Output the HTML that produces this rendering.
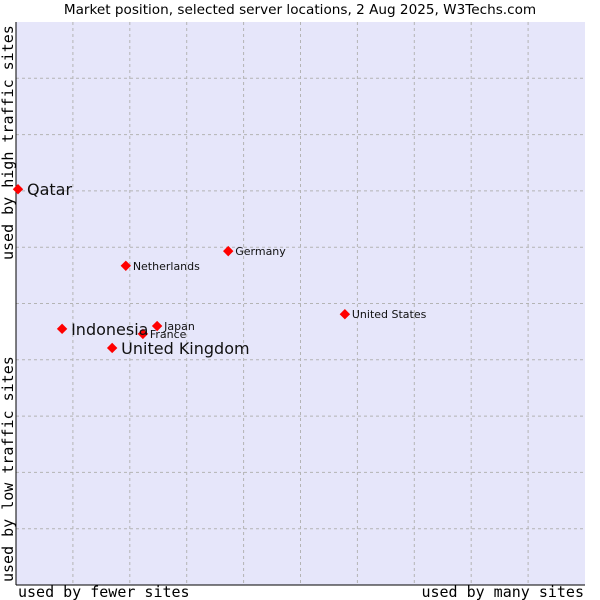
<!DOCTYPE html>
<html><head><meta charset="utf-8"><style>
body{margin:0;background:#fff;}
svg{display:block;font-family:"DejaVu Sans","Liberation Sans",sans-serif;}
.mono{font-family:"DejaVu Sans Mono","Liberation Mono",monospace;font-size:15px;fill:#000;}
</style></head><body>
<svg id="chart" width="600" height="600">
<text x="300" y="14" text-anchor="middle" font-size="13.6">Market position, selected server locations, 2 Aug 2025, W3Techs.com</text>
<rect x="16" y="22" width="569" height="563" fill="#e6e6fa"/>
<g id="grid"></g>
<line x1="16" y1="22" x2="16" y2="585" stroke="#000"/>
<line x1="16" y1="585" x2="585" y2="585" stroke="#000"/>
<g id="points"></g>
<text class="mono" x="18" y="597">used by fewer sites</text>
<text class="mono" x="584" y="597" text-anchor="end">used by many sites</text>
<text class="mono" transform="translate(13,260) rotate(-90)">used by high traffic sites</text>
<text class="mono" transform="translate(13,582) rotate(-90)">used by low traffic sites</text>
</svg>
<script>
const names=["Qatar","Netherlands","Germany","United States","Japan","France","Indonesia","United Kingdom"];
const xVals=[0.35,19.3,37.3,57.8,24.8,22.3,8.1,16.9];
const yVals=[70.3,56.7,59.3,48.1,46.0,44.6,45.5,42.1];
const big=[true,false,false,false,false,false,true,true];
const X0=16,W=569,Y0=585,H=563;
const xs=v=>X0+v/100*W, ys=v=>Y0-v/100*H;
const ns="http://www.w3.org/2000/svg";
const grid=document.getElementById('grid');
for(let i=1;i<10;i++){
  const gx=document.createElementNS(ns,'line');
  
  
  const x=X0+i*W/10;
  gx.setAttribute('x1',x);gx.setAttribute('x2',x);gx.setAttribute('y1',22);gx.setAttribute('y2',585);
  gx.setAttribute('stroke','#b4b4b4');gx.setAttribute('stroke-dasharray','3,3');
  grid.appendChild(gx);
  const gy=document.createElementNS(ns,'line');
  
  
  const y=Y0-i*H/10;
  gy.setAttribute('y1',y);gy.setAttribute('y2',y);gy.setAttribute('x1',16);gy.setAttribute('x2',585);
  gy.setAttribute('stroke','#b4b4b4');gy.setAttribute('stroke-dasharray','3,3');
  grid.appendChild(gy);
}
const pts=document.getElementById('points');
names.forEach((n,i)=>{
  const x=xs(xVals[i]),y=ys(yVals[i]);
  const p=document.createElementNS(ns,'path');
  
  
  p.setAttribute('d',`M${x-4.5},${y} L${x},${y-4.5} L${x+4.5},${y} L${x},${y+4.5} Z`);
  p.setAttribute('fill','#f00');p.setAttribute('stroke','#f00');p.setAttribute('stroke-width','1');
  pts.appendChild(p);
  const t=document.createElementNS(ns,'text');
  
  
  t.setAttribute('x',x+(big[i]?9:7));
  t.setAttribute('y',y+(big[i]?6:4));
  t.setAttribute('font-size',big[i]?16:11);
  t.setAttribute('fill','#111');
  t.textContent=n;
  pts.appendChild(t);
});
</script>
</body></html>
